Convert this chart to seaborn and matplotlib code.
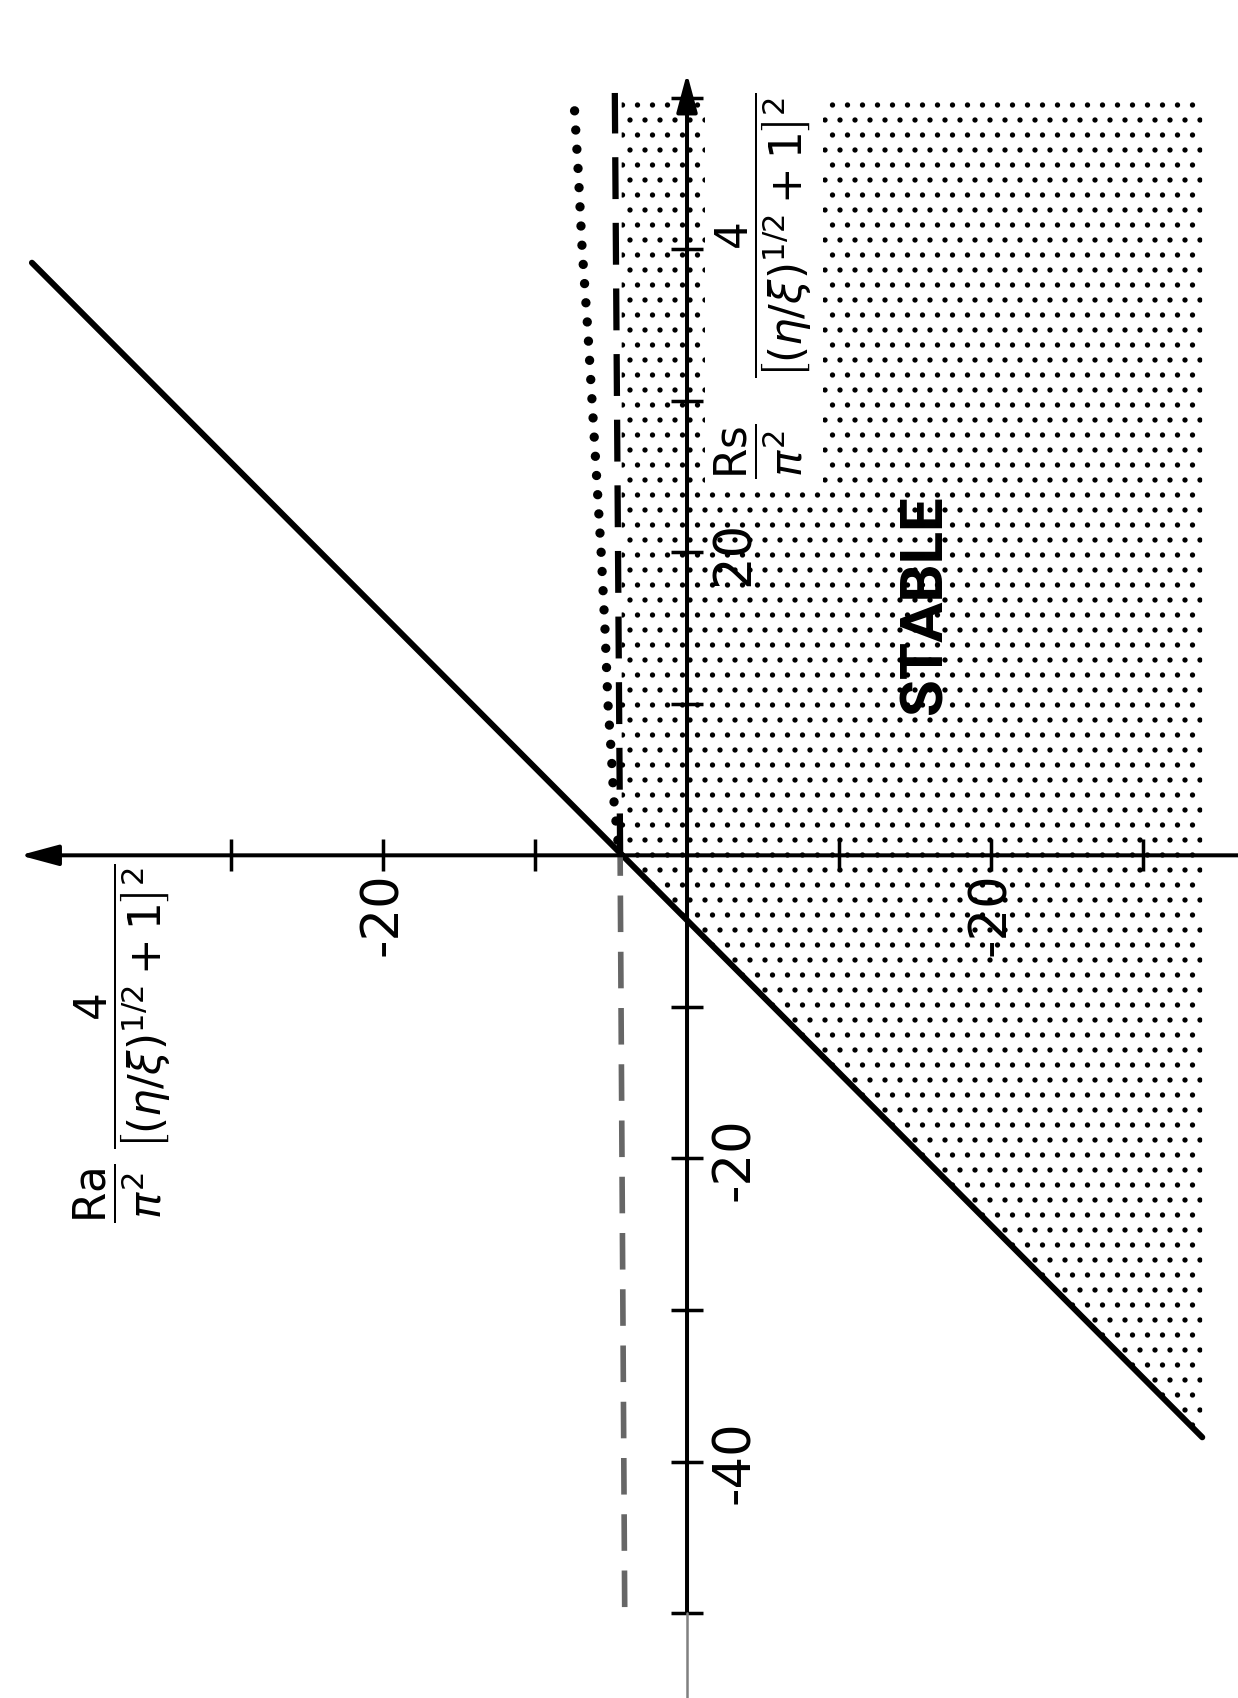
import matplotlib
matplotlib.use('Agg')
import matplotlib.pyplot as plt
from matplotlib.patches import Rectangle
import seaborn as sns

# neutral stability line (solid)
solid_rs = [-38.4, 39.1]
solid_ra = [-33.9, 43.1]

# horizontal dashed line, upper part dark, lower part faded in the scan
dash_up_rs = [0.0, 50.3]
dash_up_ra = [4.4, 4.75]
dash_low_rs = [-49.6, 0.0]
dash_low_ra = [4.1, 4.4]

# dotted curve
dot_rs = [1.0, 3.5, 7, 10, 15, 20, 25, 30, 35, 40, 45, 50]
dot_ra = [4.55, 4.8, 5.0, 5.2, 5.4, 5.65, 5.95, 6.25, 6.55, 6.9, 7.15, 7.45]

# stippled "STABLE" region
stable_rs = [-38.4, 0.0, 50.0]
stable_ra = [-33.9, 4.3, 4.3]
stable_ra_min = -33.9

ra_ticks = [30, 20, 10, -10, -20, -30]
ra_ticklabels = ['', '-20', '', '', '-20', '']
rs_ticks = [50, 40, 30, 20, 10, -10, -20, -30, -40, -50]
rs_ticklabels = ['', '', '', '20', '', '', '-20', '', '-40', '']

ra_label = r'$\dfrac{\mathrm{Ra}}{\pi^{2}}\;\dfrac{4}{\left[(\eta/\xi)^{1/2}+1\right]^{2}}$'
rs_label = r'$\dfrac{\mathrm{Rs}}{\pi^{2}}\quad\dfrac{4}{\left[(\eta/\xi)^{1/2}+1\right]^{2}}$'

W, H, DPI = 1238, 1699, 90
XLIM = (45.2, -36.25)
YLIM = (-55.6, 56.5)
RA_TIP = 43.9
RS_TIP = 51.6

sns.set_theme(style='white')
plt.rcParams['font.family'] = ['DejaVu Sans']
plt.rcParams['mathtext.fontset'] = 'dejavusans'
plt.rcParams['hatch.linewidth'] = 1.8

fig = plt.figure(figsize=(W / DPI, H / DPI), dpi=DPI)
ax = fig.add_axes([0, 0, 1, 1])
ax.set_xlim(*XLIM)
ax.set_ylim(*YLIM)

# stipple
ax.fill_betweenx(stable_rs, stable_ra_min, stable_ra, facecolor='none',
                 edgecolor='black', hatch='.', linewidth=0, zorder=1)

# curves
sns.lineplot(x=solid_ra, y=solid_rs, sort=False, estimator=None, color='black',
             linewidth=4.8, ax=ax, zorder=4)
sns.lineplot(x=dash_up_ra, y=dash_up_rs, sort=False, estimator=None, color='black',
             linewidth=5, linestyle=(0, (6.7, 3.8)), dash_capstyle='butt', ax=ax, zorder=4)
sns.lineplot(x=dash_low_ra, y=dash_low_rs, sort=False, estimator=None, color='0.4',
             linewidth=4.5, linestyle=(0, (6.5, 3.5)), dash_capstyle='butt', ax=ax, zorder=4)
sns.lineplot(x=dot_ra, y=dot_rs, sort=False, estimator=None, color='black',
             linewidth=7.5, linestyle=(0, (0.001, 2.05)), dash_capstyle='round', ax=ax, zorder=4)

# axes through the origin
for s in ['top', 'left', 'bottom', 'right']:
    ax.spines[s].set_visible(False)
ax.spines['bottom'].set_position(('data', 0))
ax.spines['right'].set_position(('data', 0))
ax.xaxis.set_ticks_position('bottom')
ax.yaxis.set_ticks_position('right')

arrow = dict(arrowstyle='-|>,head_length=1.3,head_width=0.35', mutation_scale=20,
             lw=3.2, color='black', shrinkA=0, shrinkB=0)
ax.annotate('', xy=(RA_TIP, 0), xytext=(XLIM[1], 0), arrowprops=arrow, zorder=5)
ax.annotate('', xy=(0, RS_TIP), xytext=(0, rs_ticks[-1]), arrowprops=arrow, zorder=5)
ax.plot([0, 0], [YLIM[0], rs_ticks[-1]], color='0.5', lw=2, zorder=5)

ax.set_xticks(ra_ticks, labels=ra_ticklabels, rotation=90)
ax.set_yticks(rs_ticks, labels=rs_ticklabels, rotation=90, va='center')
ax.tick_params(axis='both', direction='inout', length=25, width=2.8, color='black',
               labelsize=41, labelcolor='black')
ax.tick_params(axis='x', pad=0.5)
ax.tick_params(axis='y', pad=5.5)
ax.grid(False)

# white patch behind the Rs label
fig.add_artist(Rectangle((705 / W, 1 - 487 / H), 118 / W, 417 / H,
                         transform=fig.transFigure, facecolor='white',
                         edgecolor='none', zorder=1))

fig.text(122 / W, 1 - 1043 / H, ra_label, rotation=90, ha='center', va='center',
         fontsize=35, color='black')
fig.text(763 / W, 1 - 286 / H, rs_label, rotation=90, ha='center', va='center',
         fontsize=35, color='black', zorder=6)
fig.text(926 / W, 1 - 605 / H, 'STABLE', rotation=90, ha='center', va='center',
         fontsize=48, fontweight='bold', color='black',
         family=['Roboto', 'DejaVu Sans'], zorder=6)

fig.savefig('out.png', dpi=DPI)
